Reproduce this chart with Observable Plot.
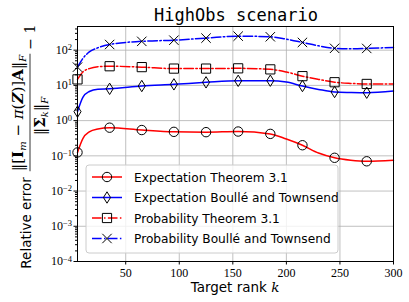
<!DOCTYPE html>
<html><head><meta charset="utf-8">
<script src="https://cdn.jsdelivr.net/npm/d3@7"></script>
<script src="https://cdn.jsdelivr.net/npm/@observablehq/plot@0.6"></script>
<style>body{margin:0;background:#fff}</style>
</head><body><div id="chart"></div>
<script>
const title = "HighObs scenario";
const xLabel = "Target rank ";
const seriesNames = ["Expectation Theorem 3.1", "Expectation Boullé and Townsend", "Probability Theorem 3.1", "Probability Boullé and Townsend"];
const rank = [5, 10, 16, 24, 35, 65, 95, 125, 155, 185, 200, 215, 230, 245, 260, 275, 300];
const markerRank = [5, 35, 65, 95, 125, 155, 185, 215, 245, 275];
const expThm = [0.125, 0.31, 0.48, 0.58, 0.63, 0.54, 0.48, 0.47, 0.49, 0.42, 0.3, 0.2, 0.12, 0.088, 0.075, 0.07, 0.075];
const expBT = [1.8, 4.6, 6.7, 7.8, 8.0, 9.6, 10.7, 12.2, 13.5, 13.6, 12.4, 9.6, 7.7, 6.5, 6.3, 6.2, 6.9];
const probThm = [14.8, 24, 30, 34, 35, 33, 30, 30, 30.5, 28.5, 24, 18.3, 14.8, 12.3, 11.4, 11, 10.9];
const probBT = [33, 58, 89, 117, 145, 178, 192, 220, 250, 240, 205, 166, 133, 113, 109, 112, 120];
const xTicks = [50, 100, 150, 200, 250, 300];
const yTicks = [1e-4, 1e-3, 1e-2, 1e-1, 1, 10, 100];

const colors = ["#ff0000", "#0000ff", "#ff0000", "#0000ff"];
const dashes = [null, null, "9.6,2.4,1.5,2.4", "9.6,2.4,1.5,2.4"];

const circleSym = {draw(c, s) {const r = Math.sqrt(s / Math.PI); c.moveTo(r, 0); c.arc(0, 0, r, 0, 2 * Math.PI);}};
const diamondSym = {draw(c, s) {const r = Math.sqrt(s / Math.PI), w = r * 0.62; c.moveTo(0, -r); c.lineTo(w, 0); c.lineTo(0, r); c.lineTo(-w, 0); c.closePath();}};
const squareSym = {draw(c, s) {const r = Math.sqrt(s / Math.PI); c.rect(-r, -r, 2 * r, 2 * r);}};
const timesSym = {draw(c, s) {const r = Math.sqrt(s / Math.PI); c.moveTo(-r, -r); c.lineTo(r, r); c.moveTo(r, -r); c.lineTo(-r, r);}};
const symbols = [circleSym, diamondSym, squareSym, timesSym];
const symR = [4.7, 5.7, 4.6, 4.7];

const values = [expThm, expBT, probThm, probBT];
const data = values.flatMap((vals, i) => rank.map((k, j) => ({k, v: vals[j], s: i})));

const minor = [];
for (let e = -4; e <= 2; e++) for (let m = 2; m <= 9; m++) { const v = m * Math.pow(10, e); if (v < 470) minor.push(v); }

const expOf = d => String(Math.round(Math.log10(d))).replace("-", "−");

const marks = [
  Plot.gridX(xTicks, {stroke: "#b0b0b0", strokeOpacity: 1, strokeWidth: 0.8}),
  Plot.gridY(yTicks, {stroke: "#b0b0b0", strokeOpacity: 1, strokeWidth: 0.8}),
];
values.forEach((_, i) => {
  const d = data.filter(r => r.s === i);
  marks.push(Plot.line(d, {x: "k", y: "v", stroke: colors[i], strokeWidth: 1.5, strokeDasharray: dashes[i], curve: "monotone-x"}));
});
values.forEach((_, i) => {
  const d = data.filter(r => r.s === i && markerRank.includes(r.k));
  marks.push(Plot.dot(d, {x: "k", y: "v", symbol: symbols[i], r: symR[i], stroke: "black", strokeWidth: 1, fill: "none"}));
});
marks.push(
  Plot.axisX({ticks: xTicks, tickSize: 3.5, tickPadding: 3, label: null}),
  Plot.axisY({ticks: minor, tickSize: 2, tickFormat: () => "", label: null}),
  Plot.axisY({ticks: yTicks, tickSize: 3.5, tickPadding: 2, label: null, tickFormat: d => "10^" + expOf(d)}),
  Plot.frame({stroke: "black", strokeWidth: 1})
);

const svgNode = Plot.plot({
  width: 409, height: 302,
  marginLeft: 77, marginRight: 16, marginTop: 26, marginBottom: 41,
  x: {domain: [5, 300]},
  y: {type: "log", domain: [1e-4, 470]},
  style: {fontFamily: "Liberation Serif", fontSize: "12px", background: "white", color: "black"},
  marks
});
document.getElementById("chart").appendChild(svgNode);
const svg = d3.select(svgNode);

// superscript tick labels
svg.selectAll("text").each(function() {
  const t = d3.select(this);
  const txt = t.text();
  if (txt.startsWith("10^")) {
    const ex = txt.slice(3);
    t.text("10");
    t.append("tspan").attr("dy", "-0.45em").attr("font-size", "8.5px").text(ex);
  }
});

// title
svg.append("text").attr("x", 236).attr("y", 21).attr("text-anchor", "middle")
  .attr("font-family", "DejaVu Sans Mono").attr("font-size", 17).attr("fill", "black").text(title);

// x label
const xl = svg.append("text").attr("x", 235).attr("y", 292).attr("text-anchor", "middle")
  .attr("font-family", "DejaVu Sans").attr("font-size", 13.5).attr("fill", "black").text(xLabel);
xl.append("tspan").attr("font-family", "DejaVu Serif").attr("font-style", "italic").text("k");

// y label (rotated)
const g = svg.append("g").attr("transform", "rotate(-90)").attr("fill", "black");
g.append("text").attr("x", -223).attr("y", 31).attr("text-anchor", "middle")
  .attr("font-family", "DejaVu Sans").attr("font-size", 13.5).text("Relative error");
const num = g.append("text").attr("x", -113).attr("y", 23).attr("text-anchor", "middle")
  .attr("font-family", "DejaVu Serif").attr("font-size", 15);
num.append("tspan").text("‖[");
num.append("tspan").attr("font-weight", "bold").text("I");
num.append("tspan").attr("font-size", 10).attr("font-style", "italic").attr("dy", 3).text("m");
num.append("tspan").attr("dy", -3).text(" − ");
num.append("tspan").attr("font-style", "italic").text("π");
num.append("tspan").text("(");
num.append("tspan").attr("font-weight", "bold").attr("font-style", "italic").text("Z");
num.append("tspan").text(")]");
num.append("tspan").attr("font-weight", "bold").text("A");
num.append("tspan").text("‖");
num.append("tspan").attr("font-size", 10).attr("font-style", "italic").attr("dy", 3).text("F");
const den = g.append("text").attr("x", -116).attr("y", 45).attr("text-anchor", "middle")
  .attr("font-family", "DejaVu Serif").attr("font-size", 15);
den.append("tspan").text("‖");
den.append("tspan").attr("font-weight", "bold").text("Σ");
den.append("tspan").attr("font-size", 10).attr("font-style", "italic").attr("dy", 3).text("k");
den.append("tspan").attr("dy", -3).text("‖");
den.append("tspan").attr("font-size", 10).attr("font-style", "italic").attr("dy", 3).text("F");
const bb = num.node().getBBox();
g.append("line").attr("x1", bb.x).attr("x2", bb.x + bb.width).attr("y1", 30).attr("y2", 30)
  .attr("stroke", "black").attr("stroke-width", 0.8);
g.append("text").attr("x", bb.x + bb.width + 4).attr("y", 35).attr("text-anchor", "start")
  .attr("font-family", "DejaVu Serif").attr("font-size", 14).text("− 1");

// legend
const lg = svg.append("g");
lg.append("rect").attr("x", 86).attr("y", 165).attr("width", 252).attr("height", 88).attr("rx", 3)
  .attr("fill", "white").attr("fill-opacity", 0.8).attr("stroke", "#cccccc").attr("stroke-width", 1);
const rowY = [177, 197.5, 218, 238.5];
seriesNames.forEach((name, i) => {
  const y = rowY[i];
  lg.append("line").attr("x1", 92).attr("x2", 122).attr("y1", y).attr("y2", y)
    .attr("stroke", colors[i]).attr("stroke-width", 1.5).attr("stroke-dasharray", dashes[i]);
  lg.append("path").attr("transform", `translate(107,${y})`)
    .attr("d", d3.symbol(symbols[i], symR[i] * symR[i] * Math.PI)())
    .attr("fill", "none").attr("stroke", "black").attr("stroke-width", 1);
  lg.append("text").attr("x", 134).attr("y", y + 4.5).attr("text-anchor", "start").attr("font-family", "DejaVu Sans")
    .attr("font-size", 12.2).attr("fill", "black").text(name);
});
</script></body></html>
